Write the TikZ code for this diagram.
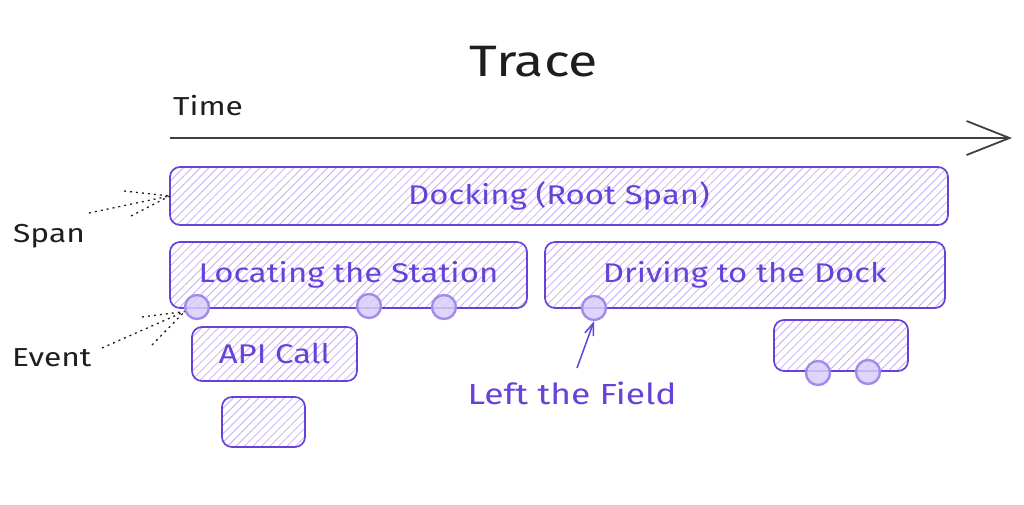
\documentclass[tikz,border=0pt]{standalone}
\usepackage{fontspec}
\setmainfont{Fira Sans}[FakeStretch=1.22]
\usetikzlibrary{arrows.meta,patterns.meta}
\definecolor{stroke}{HTML}{6741D9}
\definecolor{hatch}{HTML}{C3B0F8}
\definecolor{evfill}{HTML}{D8CEF8}
\definecolor{evline}{HTML}{A08CEB}
\definecolor{ink}{HTML}{1E1E1E}
\tikzset{
  spanbox/.style={draw=stroke, line width=1.7pt, rounded corners=10pt,
    pattern={Lines[angle=45,distance=6pt,line width=0.8pt]}, pattern color=hatch,
    text=stroke, font=\fontsize{27}{30}\selectfont, inner sep=0pt},
  evdot/.style={circle, draw=evline, line width=2.4pt, fill=evfill, fill opacity=0.85,
    minimum size=24pt, inner sep=0pt},
  dots/.style={draw=ink, line width=1.3pt, dash pattern=on 2pt off 4pt},
  lbl/.style={text=ink, font=\fontsize{26}{29}\selectfont, inner sep=0pt},
}
\begin{document}
\begin{tikzpicture}[x=1pt,y=-1pt]
\useasboundingbox (0,0) rectangle (1024,504);
% title and time axis
\node[lbl, font=\fontsize{44}{48}\selectfont] (title) at (534,62) {Trace};
\node[lbl, anchor=west] (time) at (173,106) {Time};
\coordinate (t0) at (170,138);
\coordinate (t1) at (1012,138);
\draw[ink!85, line width=1.8pt, -{Straight Barb[length=43pt,width=34pt,line width=1.8pt]}] (t0) -- (t1);
% spans
\node[spanbox, minimum width=778pt, minimum height=58pt] (root) at (559,196) {Docking (Root Span)};
\node[spanbox, minimum width=357pt, minimum height=66pt] (loc) at (348.5,275) {Locating the Station};
\node[spanbox, minimum width=400pt, minimum height=66pt] (drv) at (745,275) {Driving to the Dock};
\node[spanbox, minimum width=165pt, minimum height=54pt] (api) at (274.5,354) {API Call};
\node[spanbox, minimum width=83pt, minimum height=50pt] (small) at (263.5,422) {};
\node[spanbox, minimum width=134pt, minimum height=51pt] (right) at (841,345.5) {};
% events
\node[evdot] (e1) at (197,307) {};
\node[evdot] (e2) at (369,306) {};
\node[evdot] (e3) at (444,307) {};
\node[evdot] (e4) at (594,308) {};
\node[evdot] (e5) at (818,373) {};
\node[evdot] (e6) at (868,372) {};
% left the field
\node[lbl, text=stroke, font=\fontsize{29}{32}\selectfont] (field) at (572,393) {Left the Field};
\coordinate (fa) at (577,368);
\draw[draw=stroke, line width=1.5pt, -{Straight Barb[length=12pt,width=9pt,line width=1.5pt]}] (fa) -- (e4.south);
% side labels
\node[lbl, anchor=west] (spanl) at (13,236) {Span};
\node[lbl, anchor=west] (eventl) at (12,358) {Event};
\coordinate (s1) at (124,191);
\coordinate (s2) at (89,213);
\coordinate (s3) at (131,216);
\draw[dots] (s1) -- (root.west);
\draw[dots] (s2) -- (root.west);
\draw[dots] (s3) -- (root.west);
\coordinate (v1) at (142,317);
\coordinate (v2) at (102,348);
\coordinate (v3) at (152,345);
\draw[dots] (v1) -- (e1.200);
\draw[dots] (v2) -- (e1.200);
\draw[dots] (v3) -- (e1.200);
\end{tikzpicture}
\end{document}
